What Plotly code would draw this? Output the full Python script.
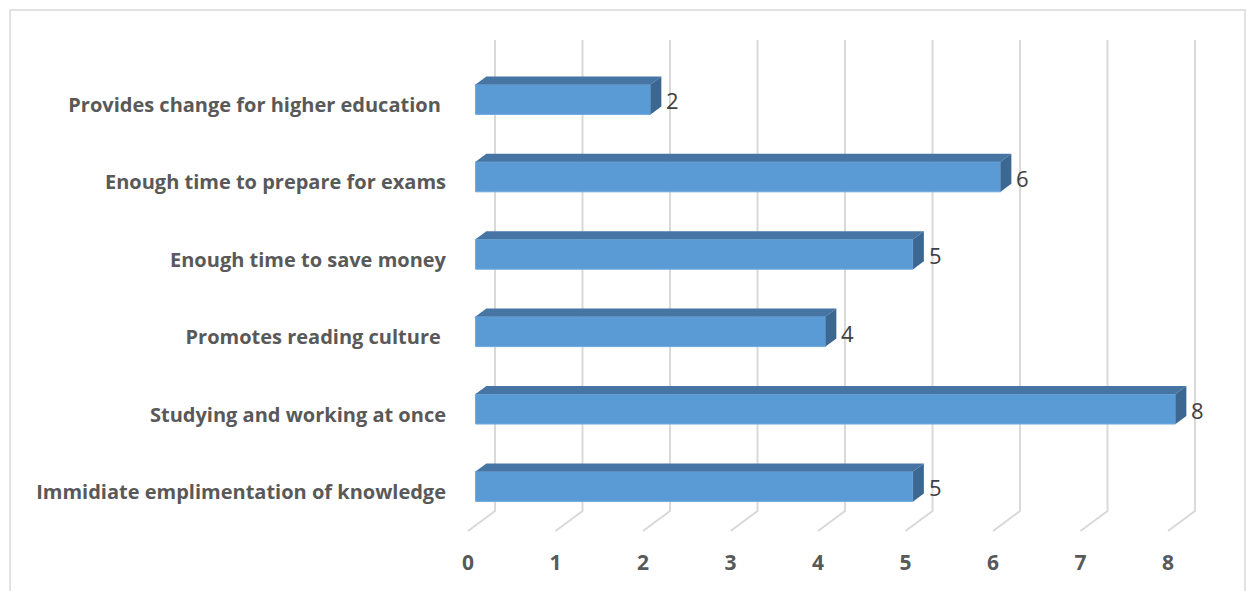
import plotly.graph_objects as go

# Survey responses (listed bottom to top as drawn)
categories = [
    "Immidiate emplimentation of knowledge",
    "Studying and working at once",
    "Promotes reading culture\u00a0",
    "Enough time to save money",
    "Enough time to prepare for exams",
    "Provides change for higher education\u00a0",
]
counts = [5, 8, 4, 5, 6, 2]
x_ticks = [0, 1, 2, 3, 4, 5, 6, 7, 8]

W, H = 1251, 591
L, R, T, B = 455, 36, 30, 51
PX_PER_X = 87.5          # pixels per unit on the value axis
PX_PER_Y = 77.4          # pixels per category step
X0_PX = 468              # pixel of value 0 on the front plane
Y0_PX = 492              # pixel of first category on the front plane

# 3-D depth of the plot box (back wall offset), in data units
DX = 27 / PX_PER_X
DY = 20 / PX_PER_Y
FLOOR = (Y0_PX - 531) / PX_PER_Y
WALL_TOP = (Y0_PX - 40) / PX_PER_Y

# bar depth fractions and thickness
F_FRONT, F_BACK = 0.28, 0.68
BAR_H = 30 / PX_PER_Y

xr = [(L - X0_PX) / PX_PER_X, (W - R - X0_PX) / PX_PER_X]
yr = [(Y0_PX - (H - B)) / PX_PER_Y, (Y0_PX - T) / PX_PER_Y]

FRONT = "#5B9BD5"
TOP = "#4674A3"
SIDE = "#3B6791"
GRID = "#D9D9D9"

fig = go.Figure()

shapes = []
# 3-D gridlines: floor diagonal then back-wall vertical
for k in x_ticks:
    shapes.append(dict(
        type="path", layer="below",
        path=f"M {k},{FLOOR} L {k + DX},{FLOOR + DY} L {k + DX},{WALL_TOP}",
        line=dict(color=GRID, width=2), xref="x", yref="y",
    ))

ypos = list(range(len(categories)))
bx0 = F_FRONT * DX
bx1 = F_BACK * DX
fronts = [i + F_FRONT * DY for i in ypos]

fig.add_trace(go.Bar(
    orientation="h",
    y=fronts, x=counts, base=[bx0] * len(counts),
    width=BAR_H,
    marker=dict(color=FRONT, line=dict(color="#6FA8DC", width=1)),
    hoverinfo="skip",
))

annotations = []
for i, v in zip(ypos, counts):
    yf_top = i + F_FRONT * DY + BAR_H / 2
    yf_bot = i + F_FRONT * DY - BAR_H / 2
    yb_top = i + F_BACK * DY + BAR_H / 2
    yb_bot = i + F_BACK * DY - BAR_H / 2
    # top face
    shapes.append(dict(
        type="path", layer="above", xref="x", yref="y",
        path=(f"M {bx0},{yf_top} L {bx0 + v},{yf_top} L {bx1 + v},{yb_top} "
              f"L {bx1},{yb_top} Z"),
        fillcolor=TOP, line=dict(width=0),
    ))
    # side face
    shapes.append(dict(
        type="path", layer="above", xref="x", yref="y",
        path=(f"M {bx0 + v},{yf_top} L {bx0 + v},{yf_bot} L {bx1 + v},{yb_bot} "
              f"L {bx1 + v},{yb_top} Z"),
        fillcolor=SIDE, line=dict(width=0),
    ))
    annotations.append(dict(
        x=bx1 + v, y=i + F_FRONT * DY, xref="x", yref="y",
        text=str(v), showarrow=False, xanchor="left", yanchor="middle",
        xshift=3, yshift=-1,
        font=dict(family="Open Sans", size=22, color="#404040"),
    ))

# outer chart border
shapes.append(dict(
    type="rect", xref="paper", yref="paper", layer="below",
    x0=(10 - L) / (W - L - R), x1=(1245 - L) / (W - L - R),
    y0=-(H - T - 0) / (H - T - B) + 1 - 0.05, y1=1 + 20 / (H - T - B),
    line=dict(color=GRID, width=1.5), fillcolor="rgba(0,0,0,0)",
))

fig.update_layout(
    width=W, height=H,
    margin=dict(l=L, r=R, t=T, b=B, pad=0),
    paper_bgcolor="white", plot_bgcolor="white",
    showlegend=False,
    shapes=shapes, annotations=annotations,
    xaxis=dict(
        range=xr, tickvals=x_ticks, ticktext=[str(t) for t in x_ticks],
        showgrid=False, zeroline=False, showline=False, ticks="",
        ticklabelstandoff=8,
        tickfont=dict(family="Open Sans", size=21, color="#595959", weight="bold"),
    ),
    yaxis=dict(
        range=yr, tickvals=ypos, ticktext=categories,
        showgrid=False, zeroline=False, showline=False, ticks="",
        ticklabelstandoff=8,
        tickfont=dict(family="Open Sans", size=20, color="#595959", weight="bold"),
    ),
)

fig.write_html("out.html")
